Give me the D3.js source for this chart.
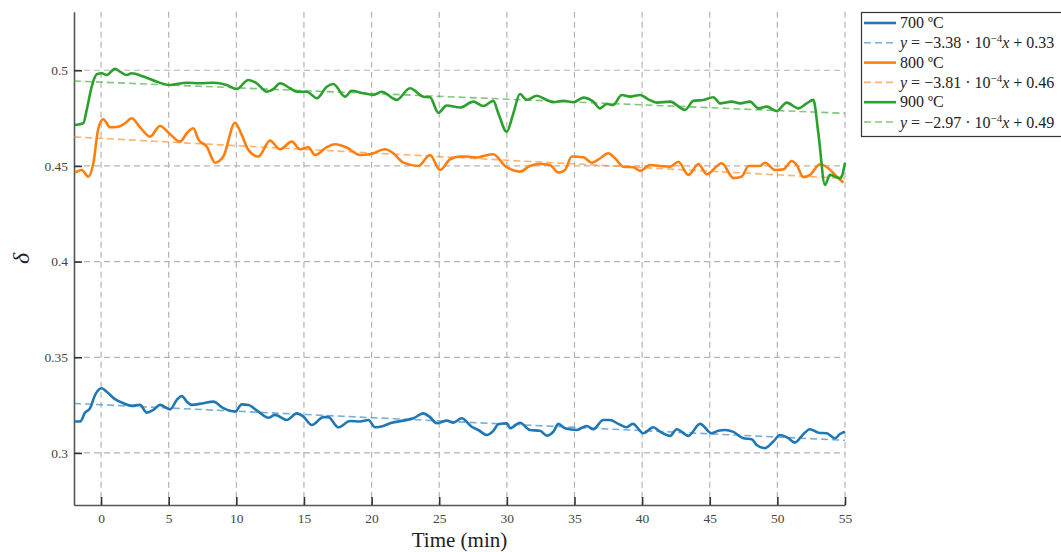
<!DOCTYPE html>
<html>
<head>
<meta charset="utf-8">
<script src="https://cdn.jsdelivr.net/npm/d3@7"></script>
<style>
  html, body { margin: 0; padding: 0; background: #fff; }
  svg { display: block; }
  text { font-family: "Liberation Serif", "Times New Roman", serif; }
</style>
</head>
<body>
<svg id="chart" width="1061" height="552"></svg>
<script>
// Oxygen non-stoichiometry δ over time, measured at three temperatures.
const temperatures = ["700 ºC", "800 ºC", "900 ºC"];
const colors = ["#1f77b4", "#ff7f0e", "#2ca02c"];

// [time (min), δ]
const series700 = [
  [-1.92,0.3164],[-1.55,0.3164],[-1.18,0.3211],[-0.81,0.3234],[-0.44,0.3303],[0.05,0.3338],
  [0.42,0.3320],[1.03,0.3281],[1.65,0.3260],[2.27,0.3246],[2.88,0.3251],[3.38,0.3211],
  [3.87,0.3225],[4.36,0.3251],[5.10,0.3228],[5.60,0.3277],[5.97,0.3298],[6.34,0.3268],
  [6.71,0.3251],[7.56,0.3260],[8.30,0.3268],[9.04,0.3234],[9.91,0.3216],[10.40,0.3254],
  [10.89,0.3251],[11.63,0.3216],[12.37,0.3184],[12.86,0.3199],[13.73,0.3172],[14.47,0.3207],
  [14.96,0.3190],[15.58,0.3146],[16.43,0.3187],[16.80,0.3187],[17.54,0.3134],[18.41,0.3167],
  [19.15,0.3164],[19.76,0.3172],[20.26,0.3134],[20.87,0.3141],[21.49,0.3158],[22.35,0.3169],
  [23.09,0.3181],[23.83,0.3207],[24.32,0.3187],[24.82,0.3155],[25.56,0.3169],[26.04,0.3158],
  [26.66,0.3181],[27.40,0.3137],[27.89,0.3120],[28.51,0.3094],[29.00,0.3115],[29.37,0.3150],
  [29.99,0.3155],[30.24,0.3129],[30.97,0.3158],[31.71,0.3120],[32.45,0.3116],[32.95,0.3090],
  [33.44,0.3111],[33.81,0.3152],[34.30,0.3129],[35.17,0.3120],[35.91,0.3141],[36.39,0.3124],
  [37.13,0.3172],[37.63,0.3172],[38.24,0.3152],[38.86,0.3134],[39.31,0.3152],[40.09,0.3103],
  [40.83,0.3134],[41.33,0.3111],[42.07,0.3089],[42.56,0.3124],[43.42,0.3089],[44.28,0.3152],
  [45.15,0.3103],[45.64,0.3116],[46.13,0.3120],[46.75,0.3110],[47.49,0.3077],[48.10,0.3072],
  [48.47,0.3042],[49.09,0.3025],[49.70,0.3060],[50.20,0.3094],[50.81,0.3077],[51.30,0.3054],
  [51.80,0.3089],[52.41,0.3124],[53.03,0.3106],[53.64,0.3103],[54.26,0.3077],[54.63,0.3099],
  [55.00,0.3111]
];

const series800 = [
  [-1.92,0.4465],[-1.43,0.4479],[-0.94,0.4444],[-0.57,0.4514],[-0.20,0.4697],[0.17,0.4744],
  [0.67,0.4702],[1.28,0.4705],[1.77,0.4723],[2.27,0.4749],[2.88,0.4702],[3.62,0.4653],
  [4.36,0.4709],[5.10,0.4666],[5.84,0.4627],[6.34,0.4671],[6.82,0.4697],[7.19,0.4639],
  [7.81,0.4601],[8.43,0.4517],[9.04,0.4549],[9.91,0.4726],[10.40,0.4662],[10.89,0.4584],
  [11.63,0.4549],[12.49,0.4632],[13.23,0.4587],[14.10,0.4627],[14.71,0.4587],[15.33,0.4598],
  [15.82,0.4557],[16.69,0.4598],[17.30,0.4613],[18.16,0.4596],[19.15,0.4557],[19.89,0.4561],
  [21.00,0.4587],[21.61,0.4566],[22.35,0.4517],[23.46,0.4500],[24.32,0.4557],[25.06,0.4479],
  [25.80,0.4535],[26.54,0.4549],[27.03,0.4549],[27.77,0.4544],[28.26,0.4552],[29.00,0.4561],
  [29.87,0.4500],[30.97,0.4470],[31.71,0.4500],[32.45,0.4510],[33.19,0.4505],[33.81,0.4465],
  [34.30,0.4479],[34.80,0.4549],[35.66,0.4545],[36.28,0.4517],[36.89,0.4540],[37.50,0.4566],
  [38.00,0.4540],[38.61,0.4496],[39.35,0.4493],[39.85,0.4474],[40.59,0.4505],[41.33,0.4500],
  [42.07,0.4496],[42.68,0.4522],[43.42,0.4453],[44.16,0.4510],[44.78,0.4457],[45.89,0.4514],
  [46.75,0.4436],[47.37,0.4445],[47.86,0.4500],[48.72,0.4500],[49.09,0.4517],[49.83,0.4479],
  [50.44,0.4482],[51.06,0.4526],[51.43,0.4505],[51.92,0.4441],[52.41,0.4453],[53.15,0.4509],
  [53.77,0.4488],[54.38,0.4445],[54.88,0.4413]
];

const series900 = [
  [-1.92,0.4714],[-1.31,0.4723],[-1.06,0.4793],[-0.69,0.4914],[-0.32,0.4979],[0.05,0.4984],
  [0.42,0.4975],[1.03,0.5007],[1.40,0.4993],[1.90,0.4975],[2.27,0.4984],[3.13,0.4967],
  [4.12,0.4940],[5.10,0.4923],[6.34,0.4935],[7.32,0.4932],[8.30,0.4935],[9.29,0.4923],
  [10.03,0.4902],[10.89,0.4949],[11.51,0.4932],[12.25,0.4888],[12.74,0.4901],[13.23,0.4932],
  [13.97,0.4906],[14.47,0.4888],[15.21,0.4888],[15.95,0.4854],[16.69,0.4914],[17.17,0.4928],
  [18.04,0.4862],[18.53,0.4893],[19.39,0.4880],[20.13,0.4871],[20.75,0.4888],[21.86,0.4845],
  [22.84,0.4906],[23.83,0.4862],[24.32,0.4859],[24.94,0.4778],[25.56,0.4816],[26.54,0.4805],
  [27.52,0.4836],[28.26,0.4813],[29.00,0.4840],[29.37,0.4775],[29.99,0.4679],[30.48,0.4775],
  [30.97,0.4876],[31.47,0.4845],[32.21,0.4867],[32.95,0.4845],[33.44,0.4833],[34.18,0.4840],
  [34.92,0.4833],[35.66,0.4857],[36.39,0.4836],[36.89,0.4801],[37.38,0.4824],[37.87,0.4819],
  [38.49,0.4871],[39.11,0.4862],[39.85,0.4871],[40.46,0.4848],[41.08,0.4831],[42.07,0.4836],
  [43.17,0.4793],[43.79,0.4840],[44.53,0.4845],[45.27,0.4859],[45.76,0.4827],[46.63,0.4836],
  [47.24,0.4827],[47.98,0.4836],[48.60,0.4801],[49.21,0.4810],[49.95,0.4787],[50.69,0.4831],
  [51.55,0.4801],[52.17,0.4827],[52.66,0.4845],[53.03,0.4671],[53.52,0.4401],[53.89,0.4453],
  [54.63,0.4436],[54.76,0.4445],[55.00,0.4517]
];

// Linear fits δ = slope·t + intercept
const fitSlopes = [-3.38e-4, -3.81e-4, -2.97e-4];
const fitIntercepts = [0.3252, 0.4644, 0.4938];

const xTicks = [0, 5, 10, 15, 20, 25, 30, 35, 40, 45, 50, 55];
const yTicks = [0.3, 0.35, 0.4, 0.45, 0.5];
const xDomain = [-2, 55];
const yDomain = [0.2728, 0.5306];

const allSeries = [series700, series800, series900];

const svg = d3.select("#chart");
const plot = { left: 74, right: 845, top: 11.7, bottom: 505 };

const x = d3.scaleLinear().domain(xDomain).range([plot.left, plot.right]);
const y = d3.scaleLinear().domain(yDomain).range([plot.bottom, plot.top]);

const gridColor = "#b4b4b4";
const axisColor = "#555";

// dashed grid
const grid = svg.append("g");
grid.selectAll("line.v").data(xTicks).join("line")
  .attr("x1", d => x(d)).attr("x2", d => x(d))
  .attr("y1", plot.top).attr("y2", plot.bottom)
  .attr("stroke", gridColor).attr("stroke-width", 1.2).attr("stroke-dasharray", "6,4");
grid.selectAll("line.h").data(yTicks).join("line")
  .attr("x1", plot.left).attr("x2", plot.right)
  .attr("y1", d => y(d)).attr("y2", d => y(d))
  .attr("stroke", gridColor).attr("stroke-width", 1.2).attr("stroke-dasharray", "6,4");

// axes with inward ticks
const xAxis = svg.append("g").attr("transform", `translate(0,${plot.bottom})`)
  .call(d3.axisBottom(x).tickValues(xTicks).tickSizeInner(-8).tickSizeOuter(0).tickPadding(8)
    .tickFormat(d3.format("d")));
const yAxis = svg.append("g").attr("transform", `translate(${plot.left},0)`)
  .call(d3.axisLeft(y).tickValues(yTicks).tickSizeInner(-8).tickSizeOuter(0).tickPadding(6)
    .tickFormat(d => String(d)));

[xAxis, yAxis].forEach(g => {
  g.select(".domain").attr("stroke", axisColor).attr("stroke-width", 1.6);
  g.selectAll(".tick line").attr("stroke", "#333").attr("stroke-width", 1.6);
  g.selectAll(".tick text").attr("fill", "#444").attr("font-size", 13.5)
    .attr("font-family", "'Liberation Serif', serif");
});

// data lines and their fits
const line = d3.line().x(d => x(d[0])).y(d => y(d[1]));
const smoothLine = d3.line().curve(d3.curveMonotoneX).x(d => x(d[0])).y(d => y(d[1]));
allSeries.forEach((s, i) => {
  svg.append("path").datum(s)
    .attr("fill", "none").attr("stroke", colors[i]).attr("stroke-width", 2.6)
    .attr("stroke-linejoin", "round").attr("d", smoothLine);
  const fit = xDomain.map(t => [t, fitSlopes[i] * t + fitIntercepts[i]]);
  svg.append("path").datum(fit)
    .attr("fill", "none").attr("stroke", colors[i]).attr("stroke-opacity", 0.6)
    .attr("stroke-width", 1.6).attr("stroke-dasharray", "7,4").attr("d", line);
});

// axis titles
svg.append("text").attr("x", (plot.left + plot.right) / 2).attr("y", 547)
  .attr("text-anchor", "middle").attr("font-size", 21).attr("fill", "#222")
  .text("Time (min)");
svg.append("text")
  .attr("transform", `translate(29,${(plot.top + plot.bottom) / 2}) rotate(-90)`)
  .attr("text-anchor", "middle").attr("font-size", 24).attr("font-style", "italic")
  .attr("fill", "#222").text("δ");

// legend
const legend = svg.append("g");
legend.append("rect").attr("x", 861.5).attr("y", 12.5).attr("width", 210).attr("height", 124)
  .attr("fill", "#fff").attr("stroke", "#333").attr("stroke-width", 1.2);

const fmtSlope = d3.format(".2f");
const rowStep = 19.8;
temperatures.forEach((label, i) => {
  const y0 = 23 + i * 2 * rowStep;
  const y1 = y0 + rowStep;
  legend.append("line").attr("x1", 864).attr("x2", 896).attr("y1", y0).attr("y2", y0)
    .attr("stroke", colors[i]).attr("stroke-width", 2.6);
  legend.append("text").attr("x", 900).attr("y", y0 + 5).attr("font-size", 16)
    .attr("fill", "#222").text(label);

  legend.append("line").attr("x1", 864).attr("x2", 896).attr("y1", y1).attr("y2", y1)
    .attr("stroke", colors[i]).attr("stroke-opacity", 0.6).attr("stroke-width", 1.6)
    .attr("stroke-dasharray", "7,4");
  const t = legend.append("text").attr("x", 900).attr("y", y1 + 5.5).attr("font-size", 16)
    .attr("fill", "#222");
  t.append("tspan").attr("font-style", "italic").text("y");
  t.append("tspan").text(" = \u2212" + fmtSlope(Math.abs(fitSlopes[i]) * 1e4) + " \u00b7 10");
  t.append("tspan").attr("font-size", 11).attr("dy", -6).text("\u22124");
  t.append("tspan").attr("font-style", "italic").attr("dy", 6).text("x");
  t.append("tspan").text(" + " + d3.format(".2f")(fitIntercepts[i]));
});
</script>
</body>
</html>
